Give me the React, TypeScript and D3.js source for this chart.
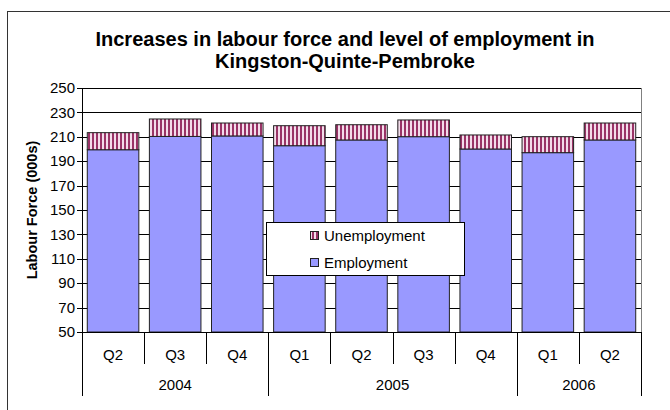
import React from "react";
import * as d3 from "d3";

const quarters = ["Q2", "Q3", "Q4", "Q1", "Q2", "Q3", "Q4", "Q1", "Q2"];
const years = ["2004", "2005", "2006"];
const yearSpans = [3, 4, 2];
const employment = [199.4, 210.3, 210.7, 202.7, 207.4, 210.1, 200.0, 197.0, 207.4];
const unemployment = [14.0, 14.3, 10.6, 16.4, 12.5, 13.7, 11.5, 13.1, 13.9];
const yTicks = [50, 70, 90, 110, 130, 150, 170, 190, 210, 230, 250];
const titleLines = ["Increases in labour force and level of employment in", "Kingston-Quinte-Pembroke"];
const yTitle = "Labour Force (000s)";
const legendLabels = ["Unemployment", "Employment"];

const W = 670;
const H = 410;
const left = 82;
const right = 641;
const top = 88;
const bottom = 332;
const font = "Arial, 'Liberation Sans', sans-serif";

export default function App() {
  const idx = quarters.map((_, i) => i);
  const x = d3.scaleBand<number>().domain(idx).range([left, right]).paddingInner(0.17).paddingOuter(0.085);
  const step = (right - left) / quarters.length;
  const y = d3.scaleLinear().domain([50, 250]).range([bottom, top]);

  let acc = 0;
  const yearBounds = yearSpans.map((s) => {
    const start = acc;
    acc += s;
    return { start, end: acc };
  });

  return (
    <svg width={W} height={H} style={{ position: "absolute", left: 0, top: 0, background: "#fff" }} fontFamily={font}>
      <defs>
        <pattern id="unemp" patternUnits="userSpaceOnUse" width="4" height="4">
          <rect width="4" height="4" fill="#f3dcea" />
          <rect width="2" height="4" fill="#993366" />
        </pattern>
      </defs>
      <rect x={0} y={0} width={W} height={H} fill="#fff" />
      <rect x={7.5} y={11.5} width={720} height={450} fill="none" stroke="#333" strokeWidth={1} />

      {titleLines.map((t, i) => (
        <text key={i} x={345} y={46 + i * 22} textAnchor="middle" fontWeight="bold" fontSize={20} fill="#000">
          {t}
        </text>
      ))}

      {/* gridlines */}
      {yTicks.map((t) => (
        <line key={t} x1={left} x2={right} y1={Math.round(y(t)) + 0.5} y2={Math.round(y(t)) + 0.5} stroke="#000" strokeWidth={1} />
      ))}
      <line x1={right + 0.5} x2={right + 0.5} y1={top} y2={bottom} stroke="#808080" />

      {/* bars */}
      {idx.map((i) => {
        const bx = x(i)!;
        const bw = x.bandwidth();
        const e = employment[i];
        const u = unemployment[i];
        return (
          <g key={i}>
            <rect x={bx} y={y(e)} width={bw} height={y(50) - y(e)} fill="#9999ff" stroke="#222" strokeWidth={1} />
            <rect x={bx} y={y(e + u)} width={bw} height={y(e) - y(e + u)} fill="url(#unemp)" stroke="#222" strokeWidth={1} />
          </g>
        );
      })}

      {/* y axis */}
      <line x1={left + 0.5} x2={left + 0.5} y1={top} y2={396} stroke="#000" />
      {yTicks.map((t) => (
        <g key={t}>
          <line x1={left - 5} x2={left} y1={Math.round(y(t)) + 0.5} y2={Math.round(y(t)) + 0.5} stroke="#000" />
          <text x={left - 7} y={y(t)} dy="0.35em" textAnchor="end" fontSize={15} fill="#000">
            {t}
          </text>
        </g>
      ))}
      <text transform={`translate(32,${(top + bottom) / 2}) rotate(-90)`} textAnchor="middle" fontWeight="bold" fontSize={14.5} dy="0.35em">
        {yTitle}
      </text>

      {/* x axis */}
      <line x1={left} x2={right} y1={bottom + 0.5} y2={bottom + 0.5} stroke="#000" />
      {idx.map((i) => (
        <g key={i}>
          <line x1={Math.round(left + step * (i + 1)) + 0.5} x2={Math.round(left + step * (i + 1)) + 0.5} y1={bottom} y2={364} stroke="#000" />
          <text x={x(i)! + x.bandwidth() / 2} y={355} dy="0.35em" textAnchor="middle" fontSize={15}>
            {quarters[i]}
          </text>
        </g>
      ))}
      {yearBounds.map((b, i) => (
        <g key={i}>
          <line x1={Math.round(left + step * b.end) + 0.5} x2={Math.round(left + step * b.end) + 0.5} y1={bottom} y2={396} stroke="#000" />
          <text x={left + step * (b.start + b.end) / 2} y={385} dy="0.35em" textAnchor="middle" fontSize={15}>
            {years[i]}
          </text>
        </g>
      ))}

      {/* legend */}
      <rect x={266.5} y={222.5} width={198} height={53} fill="#fff" stroke="#000" />
      {legendLabels.map((l, i) => (
        <g key={l}>
          <rect x={310.5} y={231.5 + i * 27} width={8} height={8} fill={i === 0 ? "url(#unemp)" : "#9999ff"} stroke="#222" />
          <text x={324} y={235.5 + i * 27} dy="0.35em" fontSize={15}>
            {l}
          </text>
        </g>
      ))}
    </svg>
  );
}
